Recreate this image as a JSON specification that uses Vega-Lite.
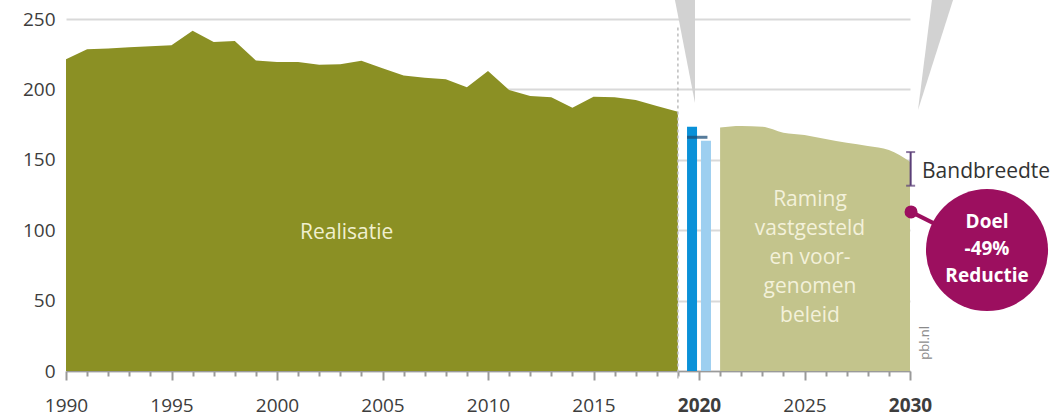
{
  "$schema": "https://vega.github.io/schema/vega-lite/v6.json",
  "width": 844,
  "height": 371,
  "autosize": {"type": "none"},
  "padding": {"left": 66, "top": 0, "right": 145, "bottom": 46},
  "background": "white",
  "config": {"view": {"stroke": null}, "font": "Open Sans"},
  "datasets": {
    "realisatie": [
      {"x": 1990, "y": 221.5}, {"x": 1991, "y": 228.5}, {"x": 1992, "y": 229}, {"x": 1993, "y": 230},
      {"x": 1994, "y": 230.6}, {"x": 1995, "y": 231.3}, {"x": 1996, "y": 241.7}, {"x": 1997, "y": 233.7},
      {"x": 1998, "y": 234.4}, {"x": 1999, "y": 220.6}, {"x": 2000, "y": 219.5}, {"x": 2001, "y": 219.5},
      {"x": 2002, "y": 217.6}, {"x": 2003, "y": 217.8}, {"x": 2004, "y": 220.3}, {"x": 2005, "y": 215},
      {"x": 2006, "y": 209.8}, {"x": 2007, "y": 208.3}, {"x": 2008, "y": 207.2}, {"x": 2009, "y": 201.5},
      {"x": 2010, "y": 213}, {"x": 2011, "y": 199.6}, {"x": 2012, "y": 195.3}, {"x": 2013, "y": 194.4},
      {"x": 2014, "y": 187}, {"x": 2015, "y": 194.8}, {"x": 2016, "y": 194.4}, {"x": 2017, "y": 192.5},
      {"x": 2018, "y": 188.2}, {"x": 2019, "y": 184.2}
    ],
    "raming": [
      {"x": 2021, "y": 173}, {"x": 2022, "y": 174}, {"x": 2023, "y": 173.5}, {"x": 2024, "y": 169.3},
      {"x": 2025, "y": 167.6}, {"x": 2026, "y": 164.8}, {"x": 2027, "y": 162.1}, {"x": 2028, "y": 159.8},
      {"x": 2029, "y": 157}, {"x": 2030, "y": 148.7}
    ],
    "bar2020": [{"x": 2019.67, "y": 173.5}],
    "bar2020b": [{"x": 2020.33, "y": 163.6}],
    "marker": [{"x": 2019.43, "x2": 2020.4, "y": 166}],
    "wedges": [
      {"g": "a", "y": 190.3, "x": 2019.81, "x2": 2019.81},
      {"g": "a", "y": 263.5, "x": 2018.86, "x2": 2019.81},
      {"g": "b", "y": 185.4, "x": 2030.38, "x2": 2030.38},
      {"g": "b", "y": 263.5, "x": 2031.04, "x2": 2032.04}
    ],
    "divider": [{"x": 2019, "y": 244, "y2": -7}],
    "band": [{"x": 2030.03, "y": 131.6, "y2": 155.5}],
    "bandEnds": [{"x": 2030.03, "y": 131.6}, {"x": 2030.03, "y": 155.5}],
    "connector": [{"x": 2030.05, "y": 113}, {"x": 2033.65, "y": 85.9}],
    "dot": [{"x": 2030.05, "y": 113}],
    "bubble": [{"x": 2033.65, "y": 85.9}],
    "bubbleText": [{"x": 2033.65, "y": 105.8, "t": "Doel\n-49%\nReductie"}],
    "realText": [{"x": 2003.3, "y": 98, "t": "Realisatie"}],
    "ramText": [{"x": 2025.26, "y": 121.4, "t": "Raming\nvastgesteld\nen voor-\ngenomen\nbeleid"}],
    "bandText": [{"x": 2030.57, "y": 141.3, "t": "Bandbreedte"}],
    "pblText": [{"x": 2030.7, "y": 20, "t": "pbl.nl"}]
  },
  "encoding": {
    "x": {
      "field": "x", "type": "quantitative",
      "scale": {"domain": [1990, 2030], "nice": false, "zero": false, "padding": 0},
      "axis": {
        "values": [1990,1991,1992,1993,1994,1995,1996,1997,1998,1999,2000,2001,2002,2003,2004,2005,2006,2007,2008,2009,2010,2011,2012,2013,2014,2015,2016,2017,2018,2019,2020,2021,2022,2023,2024,2025,2026,2027,2028,2029,2030],
        "title": null,
        "grid": false,
        "labelExpr": "datum.value % 5 === 0 ? '' + datum.value : ''",
        "labelFontSize": 19,
        "labelColor": "#3d3d3d",
        "labelFontWeight": {"condition": {"test": "datum.value === 2020 || datum.value === 2030", "value": "bold"}, "value": "normal"},
        "tickSize": {"condition": {"test": "datum.value % 5 === 0", "value": 9}, "value": 5},
        "tickColor": "#9a9a9a",
        "tickWidth": 2,
        "domainColor": "#9a9a9a",
        "domainWidth": 1.5,
        "labelPadding": 16,
        "labelOverlap": false,
        "labelFlush": false
      }
    },
    "y": {
      "field": "y", "type": "quantitative",
      "scale": {"domain": [0, 263.5], "nice": false, "padding": 0},
      "axis": {
        "values": [0, 50, 100, 150, 200, 250],
        "title": null,
        "domain": false,
        "ticks": false,
        "labelPadding": 11,
        "labelFontSize": 19,
        "labelColor": "#3d3d3d",
        "grid": true,
        "gridColor": "#d9d9d9",
        "gridWidth": 2
      }
    }
  },
  "layer": [
    {"data": {"name": "wedges"}, "mark": {"type": "area", "orient": "horizontal", "color": "#d2d2d2"},
     "encoding": {"x2": {"field": "x2"}, "detail": {"field": "g"}}},
    {"data": {"name": "realisatie"}, "mark": {"type": "area", "color": "#8b9024"}},
    {"data": {"name": "raming"}, "mark": {"type": "area", "color": "#c3c48c", "interpolate": "monotone"}},
    {"data": {"name": "divider"}, "mark": {"type": "rule", "color": "#bdbdbd", "strokeWidth": 1.5, "strokeDash": [3, 3]},
     "encoding": {"y2": {"field": "y2"}}},
    {"data": {"name": "bar2020"}, "mark": {"type": "bar", "orient": "vertical", "size": 10, "color": "#0a91d8"}},
    {"data": {"name": "bar2020b"}, "mark": {"type": "bar", "orient": "vertical", "size": 10, "color": "#9dcff0"}},
    {"data": {"name": "marker"}, "mark": {"type": "rule", "color": "#1d4f78", "strokeWidth": 3, "opacity": 0.75},
     "encoding": {"x2": {"field": "x2"}}},
    {"data": {"name": "band"}, "mark": {"type": "rule", "color": "#5b3f78", "strokeWidth": 2},
     "encoding": {"y2": {"field": "y2"}}},
    {"data": {"name": "bandEnds"}, "mark": {"type": "tick", "orient": "horizontal", "size": 9, "thickness": 2, "color": "#5b3f78"}},
    {"data": {"name": "connector"}, "mark": {"type": "line", "color": "#9c0f5f", "strokeWidth": 4}},
    {"data": {"name": "dot"}, "mark": {"type": "point", "filled": true, "opacity": 1, "size": 170, "color": "#9c0f5f"}},
    {"data": {"name": "bubble"}, "mark": {"type": "point", "filled": true, "opacity": 1, "size": 14900, "color": "#9c0f5f"}},
    {"data": {"name": "bubbleText"}, "mark": {"type": "text", "lineBreak": "\n", "fontSize": 19, "fontWeight": "bold", "color": "white", "lineHeight": 27, "align": "center", "baseline": "middle"},
     "encoding": {"text": {"field": "t"}}},
    {"data": {"name": "realText"}, "mark": {"type": "text", "fontSize": 21, "color": "#f0efcf", "align": "center", "baseline": "middle"},
     "encoding": {"text": {"field": "t"}}},
    {"data": {"name": "ramText"}, "mark": {"type": "text", "lineBreak": "\n", "fontSize": 21, "color": "#f3f1da", "lineHeight": 29, "align": "center", "baseline": "middle"},
     "encoding": {"text": {"field": "t"}}},
    {"data": {"name": "bandText"}, "mark": {"type": "text", "fontSize": 21, "color": "#333333", "align": "left", "baseline": "middle"},
     "encoding": {"text": {"field": "t"}}},
    {"data": {"name": "pblText"}, "mark": {"type": "text", "fontSize": 13, "color": "#8a8a8a", "angle": 270, "align": "center", "baseline": "middle"},
     "encoding": {"text": {"field": "t"}}}
  ]
}
